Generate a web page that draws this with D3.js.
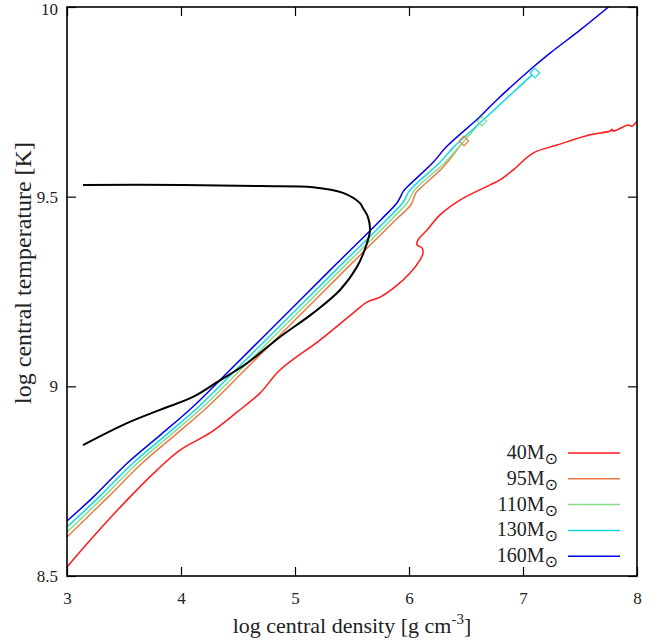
<!DOCTYPE html>
<html>
<head>
<meta charset="utf-8">
<script src="https://cdn.jsdelivr.net/npm/d3@7"></script>
<style>
  body { margin: 0; background: #fff; }
  text { font-family: "Liberation Serif", serif; fill: #222; }
</style>
</head>
<body>
<svg></svg>
<script>
// log rho_c, log T_c tracks
const track40 = [
  [3.0, 8.524], [3.228, 8.603], [3.526, 8.7], [3.789, 8.779], [3.991, 8.832],
  [4.254, 8.877], [4.491, 8.932], [4.693, 8.982], [4.868, 9.043], [5.219, 9.122],
  [5.509, 9.193], [5.632, 9.222], [5.746, 9.235], [5.877, 9.262], [6.009, 9.299],
  [6.096, 9.333], [6.123, 9.351], [6.114, 9.365], [6.07, 9.373], [6.079, 9.386],
  [6.158, 9.412], [6.272, 9.452], [6.447, 9.491], [6.711, 9.531], [6.798, 9.544],
  [6.912, 9.57], [7.088, 9.615], [7.298, 9.636], [7.588, 9.663], [7.763, 9.673],
  [7.781, 9.678], [7.789, 9.673], [7.895, 9.686], [7.921, 9.689], [7.956, 9.686],
  [8.0, 9.699]
];
const track95 = [
  [3.0, 8.603], [3.36, 8.708], [3.66, 8.798], [3.95, 8.872], [4.23, 8.945],
  [4.56, 9.043], [5.0, 9.175], [5.44, 9.307], [5.88, 9.438], [6.02, 9.48],
  [6.06, 9.51], [6.12, 9.528], [6.3, 9.578], [6.465, 9.641]
];
const track110 = [
  [3.0, 8.616], [3.32, 8.708], [3.62, 8.798], [3.91, 8.872], [4.19, 8.945],
  [4.52, 9.043], [4.96, 9.175], [5.4, 9.307], [5.84, 9.438], [5.99, 9.486],
  [6.04, 9.514], [6.1, 9.533], [6.31, 9.588], [6.43, 9.628], [6.62, 9.695]
];
const track130 = [
  [3.0, 8.629], [3.28, 8.708], [3.58, 8.798], [3.87, 8.872], [4.15, 8.945],
  [4.48, 9.043], [4.92, 9.175], [5.36, 9.307], [5.8, 9.438], [5.95, 9.486],
  [6.0, 9.514], [6.06, 9.533], [6.27, 9.59], [6.39, 9.63], [6.68, 9.71],
  [6.84, 9.755], [7.08, 9.821]
];
const track160 = [
  [3.0, 8.645], [3.23, 8.708], [3.53, 8.798], [3.82, 8.872], [4.1, 8.945],
  [4.43, 9.043], [4.87, 9.175], [5.31, 9.307], [5.75, 9.438], [5.9, 9.486],
  [5.95, 9.514], [6.01, 9.533], [6.21, 9.59], [6.33, 9.632], [6.62, 9.71],
  [6.77, 9.755], [7.06, 9.834], [7.24, 9.879], [7.5, 9.939], [7.75, 10.0]
];
// end markers (diamonds)
const endPoints = [
  { x: 6.482, y: 9.647, c: "#e87a48" },
  { x: 6.64, y: 9.699, c: "#88dd88" },
  { x: 7.105, y: 9.826, c: "#10d8e0" }
];
// pair-instability boundary
const boundary = [
  [3.14, 8.845], [3.526, 8.903], [3.816, 8.938], [4.105, 8.972], [4.316, 9.011],
  [4.579, 9.061], [4.868, 9.13], [5.158, 9.193], [5.395, 9.254], [5.544, 9.315],
  [5.632, 9.378], [5.658, 9.412], [5.64, 9.446], [5.596, 9.47], [5.57, 9.483],
  [5.421, 9.51], [5.158, 9.525], [4.693, 9.528], [3.991, 9.531], [3.14, 9.531]
];

const labels = ["40M", "95M", "110M", "130M", "160M"];
const colors = ["#ff1a1a", "#e87a48", "#88dd88", "#10d8e0", "#0000ee"];
const tracks = [track40, track95, track110, track130, track160];
const xTicks = [3, 4, 5, 6, 7, 8];
const yTicks = [8.5, 9, 9.5, 10];

const svgWidth = 668;
const svgHeight = 641;
const plotL = 67, plotT = 7, plotR = 637, plotB = 576;

const svg = d3.select("svg")
  .attr("width", svgWidth)
  .attr("height", svgHeight);

const xScale = d3.scaleLinear().domain([3, 8]).range([plotL, plotR]);
const yScale = d3.scaleLinear().domain([8.5, 10]).range([plotB, plotT]);

svg.append("defs").append("clipPath").attr("id", "plot")
  .append("rect")
  .attr("x", plotL).attr("y", plotT)
  .attr("width", plotR - plotL).attr("height", plotB - plotT);

function styleAxis(g) {
  g.select(".domain").remove();
  g.selectAll(".tick line").attr("stroke", "#000").attr("stroke-width", 1.2);
  g.selectAll(".tick text")
    .style("font-family", "Liberation Serif, serif")
    .style("font-size", "17px")
    .attr("fill", "#222");
}

svg.append("g")
  .attr("transform", "translate(0," + plotB + ")")
  .call(d3.axisBottom(xScale).tickValues(xTicks).tickSize(-9).tickPadding(16).tickFormat(d3.format("d")))
  .call(styleAxis);
svg.append("g")
  .attr("transform", "translate(0," + plotT + ")")
  .call(d3.axisTop(xScale).tickValues(xTicks).tickSize(-9).tickFormat(""))
  .call(styleAxis);
svg.append("g")
  .attr("transform", "translate(" + plotL + ",0)")
  .call(d3.axisLeft(yScale).tickValues(yTicks).tickSize(-9).tickPadding(9).tickFormat(d => d))
  .call(styleAxis)
  .call(g => g.selectAll(".tick text").attr("dy", d => d === 10 ? "0.45em" : "0.32em"));
svg.append("g")
  .attr("transform", "translate(" + plotR + ",0)")
  .call(d3.axisRight(yScale).tickValues(yTicks).tickSize(-9).tickFormat(""))
  .call(styleAxis);

const line = d3.line()
  .x(d => xScale(d[0]))
  .y(d => yScale(d[1]))
  .curve(d3.curveCatmullRom.alpha(0.5));

const plot = svg.append("g").attr("clip-path", "url(#plot)");

tracks.forEach((t, i) => {
  plot.append("path")
    .datum(t)
    .attr("fill", "none")
    .attr("stroke", colors[i])
    .attr("stroke-width", 1.5)
    .attr("d", line);
});

plot.append("path")
  .datum(boundary)
  .attr("fill", "none")
  .attr("stroke", "#000")
  .attr("stroke-width", 2)
  .attr("d", line);

plot.selectAll(".marker")
  .data(endPoints)
  .enter()
  .append("path")
  .attr("class", "marker")
  .attr("d", d3.symbol().type(d3.symbolSquare).size(45))
  .attr("transform", d => "translate(" + xScale(d.x) + "," + yScale(d.y) + ") rotate(45)")
  .attr("fill", "none")
  .attr("stroke", d => d.c)
  .attr("stroke-width", 1.2);

// frame
svg.append("rect")
  .attr("x", plotL).attr("y", plotT)
  .attr("width", plotR - plotL).attr("height", plotB - plotT)
  .attr("fill", "none")
  .attr("stroke", "#000")
  .attr("stroke-width", 1.6);

// legend
const legend = svg.append("g");
labels.forEach((l, i) => {
  const y = 453 + i * 25.8;
  const t = legend.append("text")
    .attr("x", 558)
    .attr("y", y + 6)
    .attr("text-anchor", "end")
    .style("font-size", "20px");
  t.append("tspan").text(l);
  t.append("tspan")
    .attr("dy", 5)
    .style("font-size", "16px")
    .style("font-family", "DejaVu Sans, sans-serif")
    .text("\u2299");
  legend.append("line")
    .attr("x1", 568).attr("x2", 620)
    .attr("y1", y).attr("y2", y)
    .attr("stroke", colors[i])
    .attr("stroke-width", 1.5);
});

// axis titles
const xt = svg.append("text")
  .attr("x", 352)
  .attr("y", 633)
  .attr("text-anchor", "middle")
  .style("font-size", "22px");
xt.append("tspan").text("log central density [g cm");
xt.append("tspan").attr("dy", -9).style("font-size", "15px").text("-3");
xt.append("tspan").attr("dy", 9).text("]");

svg.append("text")
  .attr("transform", "translate(31,273) rotate(-90)")
  .attr("text-anchor", "middle")
  .style("font-size", "24px")
  .text("log central temperature [K]");
</script>
</body>
</html>
